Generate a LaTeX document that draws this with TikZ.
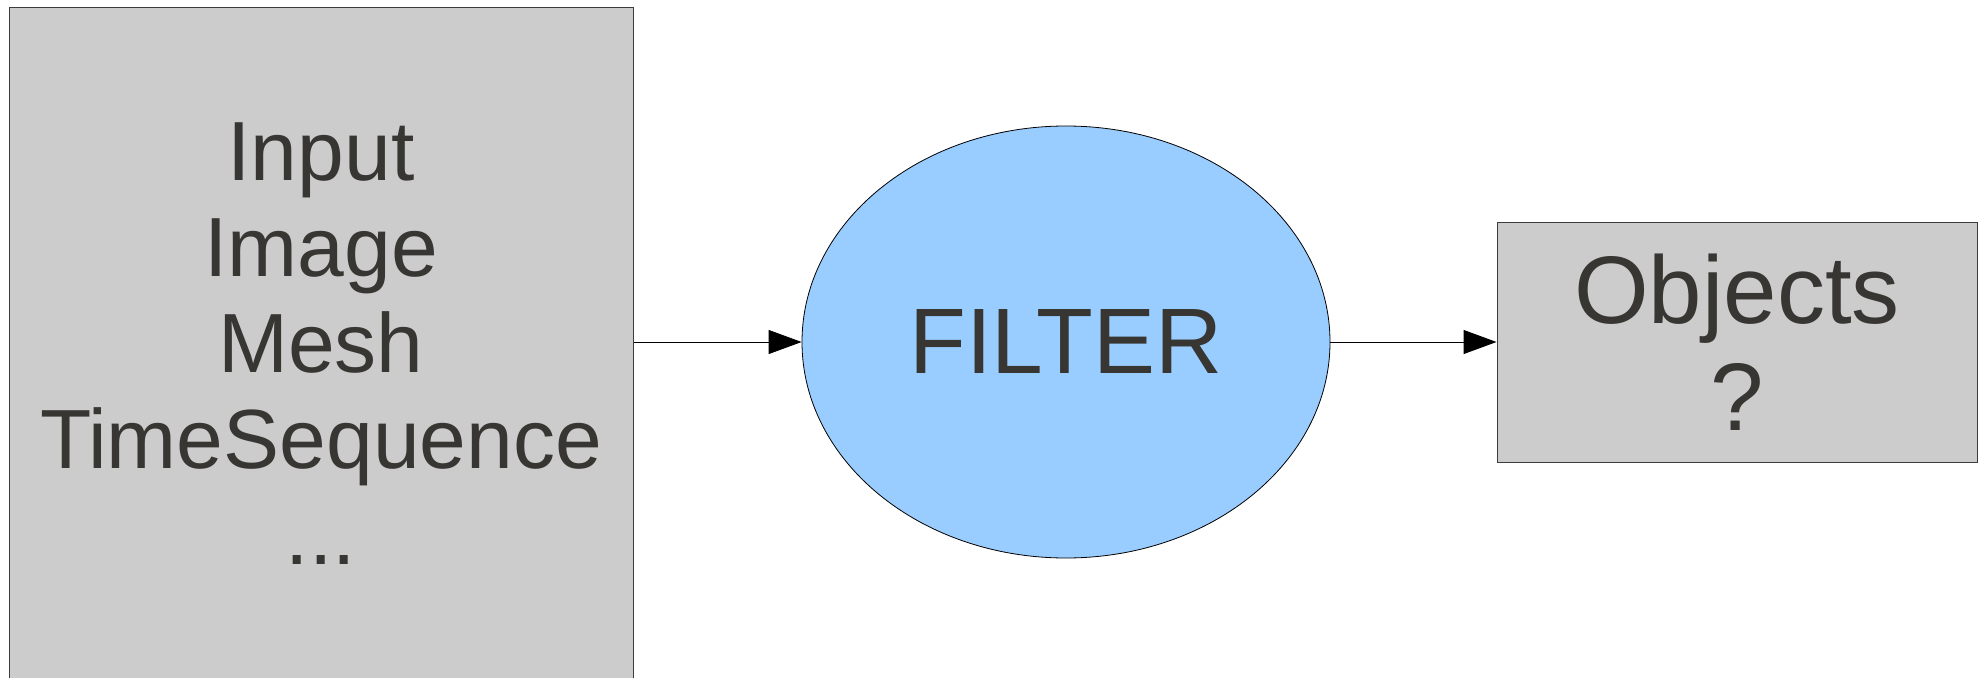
\documentclass[tikz,border=0pt]{standalone}
\usepackage{fontspec}
\setmainfont{Liberation Sans}
\usetikzlibrary{shapes.geometric,arrows.meta}
\definecolor{boxgray}{HTML}{CCCCCC}
\definecolor{boxline}{HTML}{3C3C3C}
\definecolor{skyfill}{HTML}{99CCFF}
\definecolor{txtcol}{RGB}{56,54,50}
\tikzset{
  graybox/.style={draw=boxline, fill=boxgray, line width=1pt, inner sep=0pt, text=txtcol, align=center},
  filterell/.style={ellipse, draw=black, fill=skyfill, line width=0.8pt, inner sep=0pt, text=txtcol},
  conn/.style={draw=black, line width=1pt, -{Triangle[length=33pt,width=24pt]}}
}
\begin{document}
\begin{tikzpicture}[x=1pt,y=-1pt]
\useasboundingbox (0,0) rectangle (1988,677);
\node[graybox, minimum width=624pt, minimum height=672pt, font=\fontsize{84}{96}\selectfont] (inbox) at (321,344)
  {Input\\Image\\Mesh\\TimeSequence\\...};
\node[filterell, minimum width=528pt, minimum height=432pt, font=\fontsize{93}{100}\selectfont] (filter) at (1066,342) {FILTER};
\node[graybox, minimum width=480pt, minimum height=240pt, font=\fontsize{96}{107}\selectfont] (objbox) at (1737,342)
  {Objects\\?};
\draw[conn] (inbox.east |- filter.west) -- (filter.west);
\draw[conn] (filter.east) -- (objbox.west);
\end{tikzpicture}
\end{document}
